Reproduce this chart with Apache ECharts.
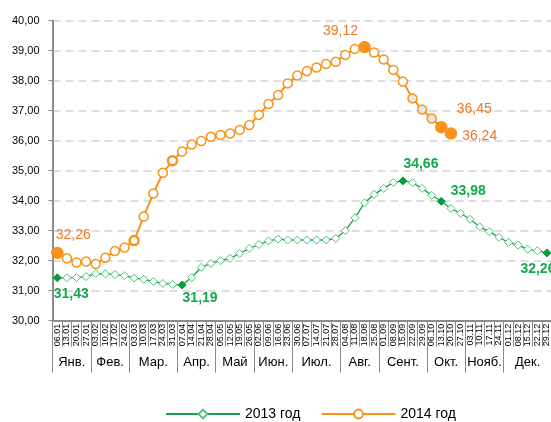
<!DOCTYPE html>
<html>
<head>
<meta charset="utf-8">
<script src="https://cdn.jsdelivr.net/npm/echarts@6/dist/echarts.min.js"></script>
<style>
  html, body { margin: 0; padding: 0; background: #fff; }
  #chart { width: 551px; height: 422px; }
</style>
</head>
<body>
<div id="chart"></div>
<script>
// недели (подписи оси X)
var weeks = ['06.01', '13.01', '20.01', '27.01', '03.02', '10.02', '17.02', '24.02',
  '03.03', '10.03', '17.03', '24.03', '31.03', '07.04', '14.04', '21.04', '28.04',
  '05.05', '12.05', '19.05', '26.05', '02.06', '09.06', '16.06', '23.06', '30.06',
  '07.07', '14.07', '21.07', '28.07', '04.08', '11.08', '18.08', '25.08', '01.09',
  '08.09', '15.09', '22.09', '29.09', '06.10', '13.10', '20.10', '27.10', '03.11',
  '10.11', '17.11', '24.11', '01.12', '08.12', '15.12', '22.12', '29.12'];
var monthNames = ['Янв.', 'Фев.', 'Мар.', 'Апр.', 'Май', 'Июн.', 'Июл.', 'Авг.', 'Сент.', 'Окт.', 'Нояб.', 'Дек.'];
var monthWeeks = [4, 4, 5, 4, 4, 4, 5, 4, 5, 4, 4, 5];

var y2013 = [31.43, 31.43, 31.44, 31.47, 31.57, 31.56, 31.54, 31.50, 31.42, 31.38,
  31.31, 31.24, 31.21, 31.19, 31.44, 31.78, 31.91, 32.00, 32.08, 32.24,
  32.41, 32.54, 32.66, 32.72, 32.69, 32.69, 32.69, 32.69, 32.69, 32.74,
  33.00, 33.43, 33.93, 34.21, 34.41, 34.61, 34.66, 34.60, 34.41, 34.18,
  33.98, 33.74, 33.58, 33.38, 33.13, 32.97, 32.78, 32.61, 32.52, 32.38,
  32.33, 32.26];
var y2014 = [32.26, 32.08, 31.94, 31.97, 31.89, 32.10, 32.32, 32.44, 32.67, 33.47,
  34.24, 34.93, 35.33, 35.64, 35.87, 35.99, 36.13, 36.19, 36.24, 36.36,
  36.52, 36.86, 37.22, 37.52, 37.91, 38.17, 38.32, 38.44, 38.56, 38.63,
  38.86, 39.06, 39.12, 38.94, 38.71, 38.36, 37.97, 37.41, 37.04, 36.74,
  36.45, 36.24];

// точки с подписями
var marked2013 = [0, 13, 36, 40, 51];
var marked2014 = [0, 32, 40, 41];
var grey2014 = [37, 38, 39];
var bold2014 = [8, 12];

var FONT = 'Arial, "Liberation Sans", sans-serif';
var GREEN = '#1a9f4c', GREEN_LIGHT = '#52c07c', GREEN_DARK = '#0a9a3e', GREEN_TEXT = '#13a94b';
var ORANGE = '#f7941d', ORANGE_TEXT = '#ec7a26';

function fmt(v) { return v.toFixed(2).replace('.', ','); }

// позиции подписей
var lbl2013 = {
  0: ['bottom', [14, 0]], 13: ['bottom', [18, -3]], 36: ['top', [18, 0]],
  40: ['right', [0, -10]], 51: ['bottom', [-9, 0]]
};
var lbl2014 = {
  0: ['top', [16, 0]], 32: ['top', [-24, 2]], 40: ['top', [33, 0]], 41: ['right', [0, 3]]
};

var data2013 = y2013.map(function (v, i) {
  if (marked2013.indexOf(i) < 0) return v;
  return {
    value: v,
    itemStyle: { color: GREEN_DARK, borderColor: GREEN_DARK },
    label: {
      show: true, position: lbl2013[i][0], offset: lbl2013[i][1], distance: 5,
      formatter: function (p) { return fmt(p.value); },
      color: GREEN_TEXT, fontSize: 14, fontWeight: 'bold', fontFamily: FONT
    }
  };
});

var data2014 = y2014.map(function (v, i) {
  if (marked2014.indexOf(i) >= 0) {
    return {
      value: v, symbolSize: 11,
      itemStyle: { color: ORANGE, borderColor: ORANGE },
      label: {
        show: true, position: lbl2014[i][0], offset: lbl2014[i][1], distance: 5,
        formatter: function (p) { return fmt(p.value); },
        color: ORANGE_TEXT, fontSize: 14, fontFamily: FONT
      }
    };
  }
  if (grey2014.indexOf(i) >= 0) return { value: v, itemStyle: { color: '#e6e6e6' } };
  if (bold2014.indexOf(i) >= 0) return { value: v, itemStyle: { borderWidth: 2.5 } };
  return v;
});

// границы месяцев и места подписей месяцев
var monthStart = [], monthLabelAt = {};
var acc = 0;
monthWeeks.forEach(function (n, m) {
  monthStart.push(acc);
  var idx = n % 2 ? acc + (n - 1) / 2 : acc + n / 2 - 1;
  monthLabelAt[idx] = { name: monthNames[m], even: n % 2 === 0 };
  acc += n;
});

var chart = echarts.init(document.getElementById('chart'));
chart.setOption({
  animation: false,
  backgroundColor: '#fff',
  textStyle: { fontFamily: FONT },
  grid: { left: 52.5, top: 20.7, width: 499.2, height: 300, containLabel: false, outerBoundsMode: 'none' },
  legend: {
    data: ['2013 год', '2014 год'],
    left: 160, top: 402,
    itemWidth: 74, itemHeight: 11, itemGap: 20,
    textStyle: { fontSize: 14, color: '#000', fontFamily: FONT }
  },
  xAxis: [{
    type: 'category',
    data: weeks,
    boundaryGap: true,
    axisLine: { lineStyle: { color: '#8c8c8c', width: 2 } },
    axisTick: { show: true, interval: 0, length: 26, lineStyle: { color: '#8c8c8c', width: 1 } },
    axisLabel: { interval: 0, rotate: 90, margin: 3, fontSize: 9, color: '#000', fontFamily: FONT },
    splitLine: { show: false }
  }, {
    type: 'category',
    data: weeks,
    position: 'bottom',
    boundaryGap: true,
    axisLine: { show: false },
    axisTick: {
      show: true, length: 52, lineStyle: { color: '#8c8c8c', width: 1 },
      interval: function (i) { return monthStart.indexOf(i) >= 0; }
    },
    axisLabel: {
      interval: 0, margin: 35, fontSize: 13, color: '#000', fontFamily: FONT,
      formatter: function (v, i) {
        var m = monthLabelAt[i];
        if (!m) return '';
        return m.even ? '{e|' + m.name + '}' : m.name;
      },
      rich: { e: { padding: [0, 0, 0, 9.6], fontSize: 13, color: '#000', fontFamily: FONT } }
    },
    splitLine: { show: false }
  }],
  yAxis: {
    type: 'value',
    min: 30, max: 40, interval: 1,
    axisLine: { show: true, lineStyle: { color: '#8c8c8c', width: 2 } },
    axisTick: { show: true, length: 4, lineStyle: { color: '#8c8c8c', width: 1 } },
    axisLabel: { formatter: fmt, fontSize: 11, color: '#000', margin: 13, fontFamily: FONT },
    splitLine: { lineStyle: { color: '#d4d4d4', width: 1.5, type: [8, 5] } }
  },
  series: [{
    name: '2013 год',
    type: 'line',
    data: data2013,
    symbol: 'diamond',
    symbolSize: 8,
    lineStyle: { color: GREEN, width: 1.3 },
    itemStyle: { color: '#fff', borderColor: GREEN_LIGHT, borderWidth: 1 },
    z: 2
  }, {
    name: '2014 год',
    type: 'line',
    data: data2014,
    symbol: 'circle',
    symbolSize: 9,
    lineStyle: { color: ORANGE, width: 2 },
    itemStyle: { color: '#fff', borderColor: ORANGE, borderWidth: 1.5 },
    z: 3
  }]
});
</script>
</body>
</html>
